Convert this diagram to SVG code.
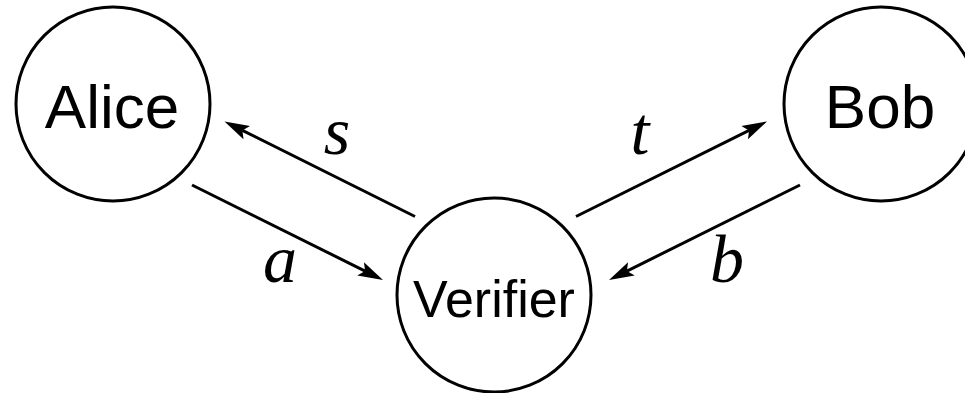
<svg xmlns="http://www.w3.org/2000/svg" width="965" height="393" viewBox="0 0 965 393">
  <style>
    .node circle { fill: #fff; stroke: #000; stroke-width: 3; }
    .node text { font-family: "Liberation Sans", Arial, sans-serif; fill: #000; text-anchor: middle; }
    .edge { stroke: #000; stroke-width: 3; fill: none; marker-end: url(#arrow); }
    .lbl { font-family: "Liberation Serif", "Times New Roman", serif; font-style: italic; font-size: 68px; fill: #000; text-anchor: middle; }
  </style>
  <defs>
    <marker id="arrow" viewBox="0 0 25 16" refX="5" refY="8" markerWidth="25" markerHeight="16" markerUnits="userSpaceOnUse" orient="auto">
      <path d="M25,8 L0,0.5 L5,8 L0,15.5 Z" fill="#000"/>
    </marker>
  </defs>
  <rect width="965" height="393" fill="#fff"/>

  <g id="alice" class="node">
    <circle cx="113" cy="104" r="97"/>
    <text x="112" y="128" font-size="62">Alice</text>
  </g>
  <g id="bob" class="node">
    <circle cx="881" cy="104" r="97"/>
    <text x="880" y="128" font-size="62">Bob</text>
  </g>
  <g id="verifier" class="node">
    <circle cx="494" cy="295" r="97"/>
    <text x="494" y="317" font-size="52">Verifier</text>
  </g>

  <g id="connectors">
    <line class="edge" x1="415" y1="216.5" x2="242.4" y2="130.4"/>
    <line class="edge" x1="192" y1="185" x2="365.1" y2="271.1"/>
    <line class="edge" x1="576" y1="216.5" x2="749.1" y2="130.4"/>
    <line class="edge" x1="800" y1="185" x2="626.9" y2="271.1"/>
    <text class="lbl" x="337" y="154">s</text>
    <text class="lbl" x="640" y="154">t</text>
    <text class="lbl" x="280" y="282">a</text>
    <text class="lbl" x="727" y="282">b</text>
  </g>
</svg>
